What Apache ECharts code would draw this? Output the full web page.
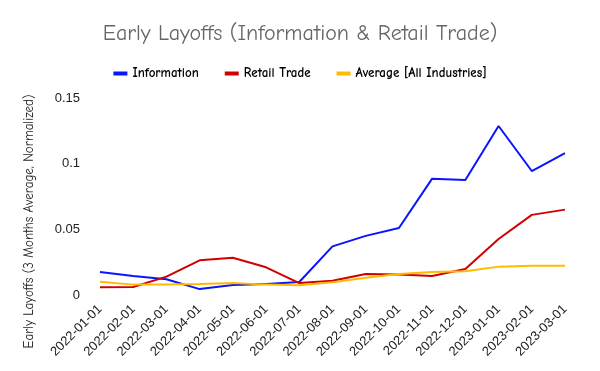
<!DOCTYPE html>
<html><head><meta charset="utf-8">
<script src="https://cdn.jsdelivr.net/npm/echarts@6/dist/echarts.min.js"></script>
<style>html,body{margin:0;padding:0;background:#fff}#c{width:600px;height:371px}</style>
</head><body><div id="c"></div>
<script>
var categories = ['2022-01-01','2022-02-01','2022-03-01','2022-04-01','2022-05-01','2022-06-01','2022-07-01','2022-08-01','2022-09-01','2022-10-01','2022-11-01','2022-12-01','2023-01-01','2023-02-01','2023-03-01'];
var information = [0.0175,0.0145,0.0120,0.0045,0.0076,0.0084,0.0099,0.0370,0.0450,0.0510,0.0886,0.0876,0.1287,0.0944,0.1080];
var retailTrade = [0.0059,0.0061,0.0140,0.0264,0.0284,0.0211,0.0091,0.0109,0.0160,0.0157,0.0145,0.0198,0.0426,0.0610,0.0650];
var average = [0.0101,0.0079,0.0079,0.0084,0.0091,0.0079,0.0074,0.0097,0.0132,0.0160,0.0175,0.0180,0.0216,0.0223,0.0223];
var yTicks = [0, 0.05, 0.1, 0.15];

var chart = echarts.init(document.getElementById('c'));
var comic = '"Comic Sans MS", "Comic Neue", "DejaVu Sans", sans-serif';
function mk(name, data, color) {
  return {name: name, type: 'line', data: data, symbol: 'none', smooth: false,
    lineStyle: {color: color, width: 2}, itemStyle: {color: color}};
}
chart.setOption({
  animation: false,
  title: {text: 'Early Layoffs (Information & Retail Trade)', left: 'center', top: 18,
    textStyle: {fontFamily: comic, fontSize: 22, fontWeight: 'normal', color: '#666'}},
  legend: {top: 62, left: 'center', itemWidth: 14, itemHeight: 4, itemGap: 26, icon: 'rect',
    textStyle: {fontFamily: comic, fontSize: 13, fontWeight: 'bold', color: '#000'}},
  grid: {left: 100, right: 35, top: 98, bottom: 76},
  xAxis: {type: 'category', data: categories, boundaryGap: false,
    axisLine: {show: false}, axisTick: {show: false},
    axisLabel: {rotate: 45, fontSize: 13, color: '#222', fontFamily: 'Liberation Sans, Arial, sans-serif', margin: 12}},
  yAxis: {type: 'value', min: 0, max: 0.15, interval: 0.05,
    name: 'Early Layoffs (3 Months Average, Normalized)', nameLocation: 'middle', nameGap: 64,
    nameTextStyle: {fontFamily: comic, fontSize: 13, color: '#222', padding: [0, 0, 0, -50]},
    axisLine: {show: false}, axisTick: {show: false}, splitLine: {show: false},
    axisLabel: {fontSize: 13, color: '#222', margin: 20, fontFamily: 'Liberation Sans, Arial, sans-serif',
      formatter: function (v) { return yTicks.indexOf(v) >= 0 ? String(v) : ''; }}},
  series: [
    mk('Information', information, '#0a14ff'),
    mk('Retail Trade', retailTrade, '#d00000'),
    mk('Average [All Industries]', average, '#ffba00')
  ]
});
</script></body></html>
